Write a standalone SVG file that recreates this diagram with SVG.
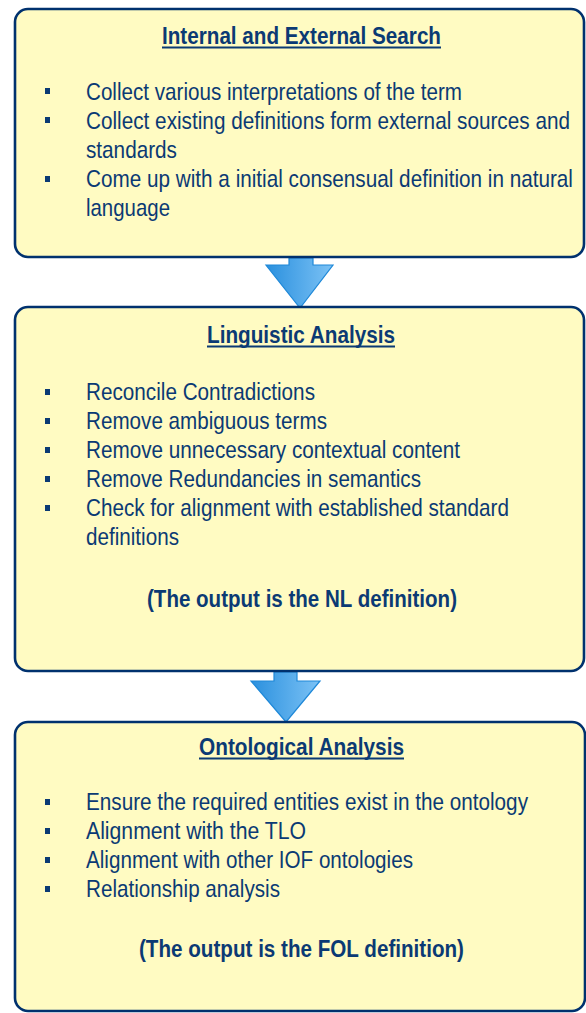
<svg xmlns="http://www.w3.org/2000/svg" width="586" height="1013" viewBox="0 0 586 1013">
<style>
.box{fill:#FFFBC2;stroke:#00316E;stroke-width:2.6}
text{font-family:"Liberation Sans",Arial,sans-serif;fill:#0B3A74}
.t{font-size:23px;font-weight:bold}
.b{font-size:24px}
.o{font-size:23px;font-weight:bold}
.ul{stroke:#0B3A74;stroke-width:1.8}
.bl{fill:#0B3A74}
.arr{fill:url(#g);stroke:#1E88D8;stroke-width:1.2}
</style>
<defs>
<linearGradient id="g" x1="0" y1="0" x2="1" y2="0">
<stop offset="0" stop-color="#2A90DE"/>
<stop offset="1" stop-color="#7CC2F5"/>
</linearGradient>
</defs>
<g id="connectors">
<path class="arr" d="M289,258 L313,258 L313,265 L333,265 L300,308 L266,265 L289,265 Z"/>
<path class="arr" d="M274,672 L297,672 L297,681 L320,681 L286,722 L251,681 L274,681 Z"/>
</g>
<g id="node1">
<rect class="box" x="15" y="9" width="569" height="248" rx="13"/>
<line class="ul" x1="162" y1="47.5" x2="441" y2="47.5"/>
<rect class="bl" x="45" y="88" width="5" height="6"/>
<rect class="bl" x="45" y="117" width="5" height="6"/>
<rect class="bl" x="45" y="176" width="5" height="6"/>
<g transform="scale(0.84,1)">
<text class="t" x="192.86" y="44" textLength="332.14" lengthAdjust="spacingAndGlyphs">Internal and External Search</text>
<text class="b" x="102.38" y="100" textLength="447.62" lengthAdjust="spacingAndGlyphs">Collect various interpretations of the term</text>
<text class="b" x="102.38" y="129" textLength="576.19" lengthAdjust="spacingAndGlyphs">Collect existing definitions form external sources and</text>
<text class="b" x="102.38" y="158" textLength="108.33" lengthAdjust="spacingAndGlyphs">standards</text>
<text class="b" x="102.38" y="187" textLength="579.76" lengthAdjust="spacingAndGlyphs">Come up with a initial consensual definition in natural</text>
<text class="b" x="102.38" y="216" textLength="100" lengthAdjust="spacingAndGlyphs">language</text>
</g>
</g>
<g id="node2">
<rect class="box" x="15" y="307" width="569" height="364" rx="13"/>
<line class="ul" x1="207" y1="346.5" x2="395" y2="346.5"/>
<rect class="bl" x="45" y="389" width="5" height="6"/>
<rect class="bl" x="45" y="418" width="5" height="6"/>
<rect class="bl" x="45" y="447" width="5" height="6"/>
<rect class="bl" x="45" y="476" width="5" height="6"/>
<rect class="bl" x="45" y="505" width="5" height="6"/>
<g transform="scale(0.84,1)">
<text class="t" x="246.43" y="343" textLength="223.81" lengthAdjust="spacingAndGlyphs">Linguistic Analysis</text>
<text class="b" x="102.38" y="400" textLength="272.62" lengthAdjust="spacingAndGlyphs">Reconcile Contradictions</text>
<text class="b" x="102.38" y="429" textLength="286.90" lengthAdjust="spacingAndGlyphs">Remove ambiguous terms</text>
<text class="b" x="102.38" y="458" textLength="445.24" lengthAdjust="spacingAndGlyphs">Remove unnecessary contextual content</text>
<text class="b" x="102.38" y="487" textLength="398.81" lengthAdjust="spacingAndGlyphs">Remove Redundancies in semantics</text>
<text class="b" x="102.38" y="516" textLength="503.57" lengthAdjust="spacingAndGlyphs">Check for alignment with established standard</text>
<text class="b" x="102.38" y="545" textLength="110.71" lengthAdjust="spacingAndGlyphs">definitions</text>
<text class="o" x="175" y="607" textLength="369.05" lengthAdjust="spacingAndGlyphs">(The output is the NL definition)</text>
</g>
</g>
<g id="node3">
<rect class="box" x="15" y="722" width="570" height="289" rx="13"/>
<line class="ul" x1="199" y1="758.5" x2="404" y2="758.5"/>
<rect class="bl" x="45" y="799" width="5" height="6"/>
<rect class="bl" x="45" y="828" width="5" height="6"/>
<rect class="bl" x="45" y="857" width="5" height="6"/>
<rect class="bl" x="45" y="886" width="5" height="6"/>
<g transform="scale(0.84,1)">
<text class="t" x="236.90" y="755" textLength="244.05" lengthAdjust="spacingAndGlyphs">Ontological Analysis</text>
<text class="b" x="102.38" y="810" textLength="526.19" lengthAdjust="spacingAndGlyphs">Ensure the required entities exist in the ontology</text>
<text class="b" x="102.38" y="839" textLength="261.90" lengthAdjust="spacingAndGlyphs">Alignment with the TLO</text>
<text class="b" x="102.38" y="868" textLength="389.29" lengthAdjust="spacingAndGlyphs">Alignment with other IOF ontologies</text>
<text class="b" x="102.38" y="897" textLength="230.95" lengthAdjust="spacingAndGlyphs">Relationship analysis</text>
<text class="o" x="165.48" y="957" textLength="386.90" lengthAdjust="spacingAndGlyphs">(The output is the FOL definition)</text>
</g>
</g>
</svg>
